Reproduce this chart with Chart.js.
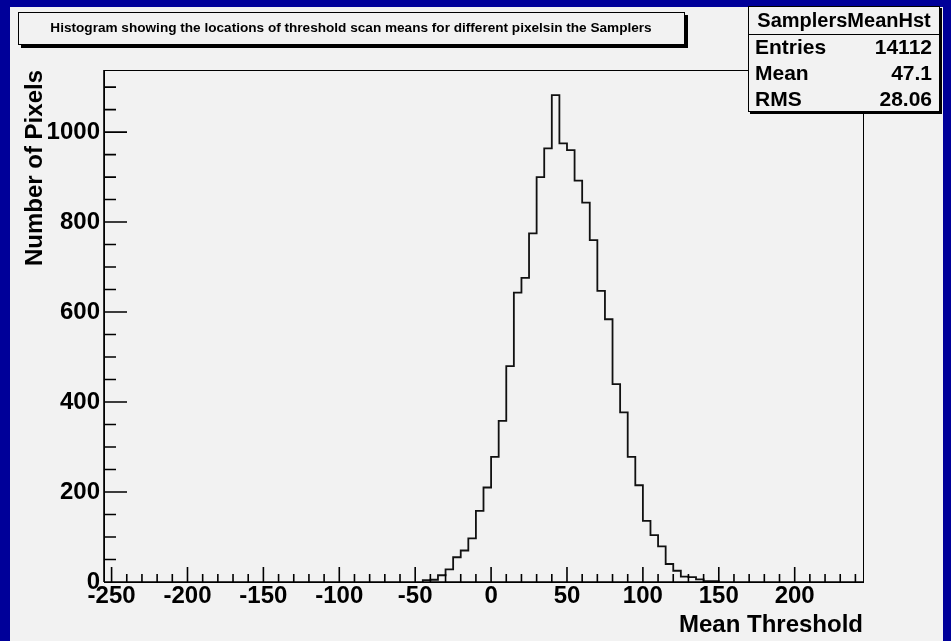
<!DOCTYPE html>
<html>
<head>
<meta charset="utf-8">
<title>SamplersMeanHst</title>
<script src="https://cdn.jsdelivr.net/npm/chart.js@4.4.1/dist/chart.umd.min.js"></script>
<style>
  html, body { margin: 0; padding: 0; background: #000099; }
  #wrap { width: 951px; height: 641px; }
</style>
</head>
<body>
<div id="wrap"><canvas id="histChart" width="951" height="641"></canvas></div>
<script>
// lower edge of each filled bin (bins are 5 wide) and the number of pixels in it
const binWidth = 5;
const binLeft = [-45, -40, -35, -30, -25, -20, -15, -10, -5, 0, 5, 10, 15, 20, 25, 30, 35, 40, 45,
                 50, 55, 60, 65, 70, 75, 80, 85, 90, 95, 100, 105, 110, 115, 120, 125, 130, 135, 140, 145];
const counts = [4, 5, 15, 28, 55, 70, 97, 158, 210, 278, 358, 480, 643, 676, 775, 900, 964, 1082, 975,
                960, 892, 843, 760, 647, 584, 440, 377, 278, 215, 136, 104, 79, 40, 25, 12, 11, 6, 2, 2];

const xTickLabels = [-250, -200, -150, -100, -50, 0, 50, 100, 150, 200];
const yTickLabels = [0, 200, 400, 600, 800, 1000];

const titleText = 'Histogram showing the locations of threshold scan means for different pixelsin the Samplers';
const statsName = 'SamplersMeanHst';
const statsRows = [['Entries', '14112'], ['Mean', '47.1'], ['RMS', '28.06']];

const FONT = 'Liberation Sans, Arial, Helvetica, sans-serif';

// step outline points: start on the baseline, one point per bin edge, close back to 0
const points = [{ x: binLeft[0], y: 0 }];
binLeft.forEach((x, i) => points.push({ x: x, y: counts[i] }));
points.push({ x: binLeft[binLeft.length - 1] + binWidth, y: 0 });

// gray pad with the blue border round it
const padBackground = {
    id: 'padBackground',
    beforeDraw(chart) {
        const ctx = chart.ctx;
        ctx.save();
        ctx.fillStyle = '#000099';
        ctx.fillRect(0, 0, chart.width, chart.height);
        ctx.fillStyle = '#f2f2f2';
        ctx.fillRect(10, 7, 933, 634);
        ctx.restore();
    }
};

// ROOT style frame with inward ticks
const rootFrame = {
    id: 'rootFrame',
    afterDatasetsDraw(chart) {
        const ctx = chart.ctx;
        const a = chart.chartArea;
        const xs = chart.scales.x;
        const ys = chart.scales.y;
        ctx.save();
        ctx.strokeStyle = '#000';
        ctx.lineWidth = 1;
        ctx.strokeRect(a.left + 0.5, a.top + 0.5, a.right - a.left, a.bottom - a.top);

        ctx.lineWidth = 1.6;
        ctx.beginPath();
        ctx.moveTo(a.left, a.bottom);
        ctx.lineTo(a.right, a.bottom);
        ctx.moveTo(a.left, a.bottom);
        ctx.lineTo(a.left, a.top);
        for (let v = -250; v <= 240; v += 10) {
            const px = xs.getPixelForValue(v);
            const len = v % 50 === 0 ? 15 : 8;
            ctx.moveTo(px, a.bottom);
            ctx.lineTo(px, a.bottom - len);
        }
        for (let v = 0; v <= 1100; v += 50) {
            const py = ys.getPixelForValue(v);
            const len = v % 200 === 0 ? 23 : 12;
            ctx.moveTo(a.left, py);
            ctx.lineTo(a.left + len, py);
        }
        ctx.stroke();
        ctx.restore();
    },
    afterDraw(chart) {
        const ctx = chart.ctx;
        ctx.save();

        // title pave
        ctx.fillStyle = '#000';
        ctx.fillRect(21, 15, 667, 33);
        ctx.fillStyle = '#f2f2f2';
        ctx.fillRect(18, 12, 667, 33);
        ctx.strokeStyle = '#000';
        ctx.lineWidth = 1;
        ctx.strokeRect(18.5, 12.5, 666, 32);
        ctx.fillStyle = '#000';
        ctx.font = 'bold 13.6px ' + FONT;
        ctx.textAlign = 'center';
        ctx.textBaseline = 'middle';
        ctx.fillText(titleText, 351, 28);

        // stats box
        ctx.fillStyle = '#000';
        ctx.fillRect(750, 8, 192, 106);
        ctx.fillStyle = '#f2f2f2';
        ctx.fillRect(748, 6, 192, 106);
        ctx.strokeRect(748.5, 6.5, 191, 105);
        ctx.beginPath();
        ctx.moveTo(748, 34.5);
        ctx.lineTo(940, 34.5);
        ctx.stroke();

        ctx.fillStyle = '#000';
        ctx.font = 'bold 20px ' + FONT;
        ctx.textAlign = 'center';
        ctx.fillText(statsName, 844, 21);
        ctx.font = 'bold 21px ' + FONT;
        statsRows.forEach((row, i) => {
            const y = 48 + i * 26;
            ctx.textAlign = 'left';
            ctx.fillText(row[0], 755, y);
            ctx.textAlign = 'right';
            ctx.fillText(row[1], 932, y);
        });
        ctx.restore();
    }
};

const labelFont = { family: FONT, size: 24, weight: 'bold' };

new Chart(document.getElementById('histChart'), {
    type: 'line',
    data: {
        datasets: [{
            data: points,
            stepped: 'before',
            borderColor: '#111',
            borderWidth: 1.8,
            pointRadius: 0,
            fill: false,
            tension: 0
        }]
    },
    options: {
        responsive: false,
        animation: false,
        layout: { padding: { left: 0, top: 70, right: 88, bottom: 0 } },
        plugins: {
            legend: { display: false },
            tooltip: { enabled: false }
        },
        scales: {
            x: {
                type: 'linear',
                min: -255,
                max: 245,
                afterBuildTicks: (scale) => { scale.ticks = xTickLabels.map(v => ({ value: v })); },
                afterFit: (scale) => { scale.height = 59; },
                grid: { display: false, drawTicks: false },
                border: { display: false },
                ticks: {
                    font: labelFont,
                    color: '#000',
                    padding: 0,
                    maxRotation: 0,
                    autoSkip: false,
                    callback: (v) => String(v)
                },
                title: {
                    display: true,
                    text: 'Mean Threshold',
                    align: 'end',
                    color: '#000',
                    font: labelFont,
                    padding: { top: 0, bottom: 1 }
                }
            },
            y: {
                min: 0,
                max: 1138,
                afterBuildTicks: (scale) => { scale.ticks = yTickLabels.map(v => ({ value: v })); },
                afterFit: (scale) => { scale.width = 104; },
                grid: { display: false, drawTicks: false },
                border: { display: false },
                ticks: {
                    font: labelFont,
                    color: '#000',
                    padding: 4,
                    autoSkip: false,
                    callback: (v) => String(v)
                },
                title: {
                    display: true,
                    text: 'Number of Pixels',
                    align: 'end',
                    color: '#000',
                    font: labelFont,
                    padding: { top: 21, bottom: 0 }
                }
            }
        }
    },
    plugins: [padBackground, rootFrame]
});
</script>
</body>
</html>
